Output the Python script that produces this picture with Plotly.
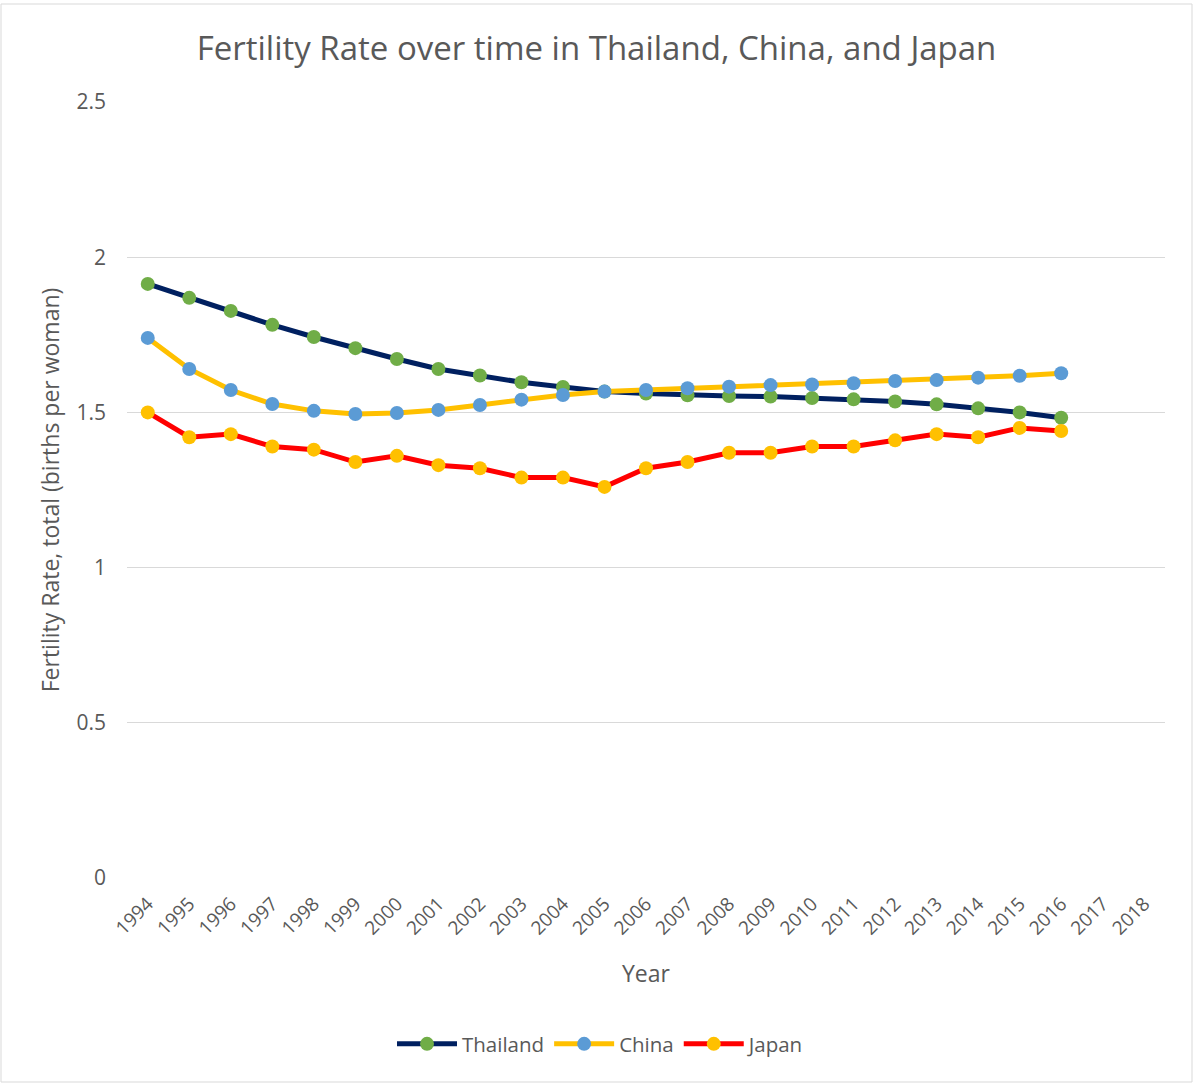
import plotly.graph_objects as go

years = [str(y) for y in range(1994, 2019)]
data_years = [str(y) for y in range(1994, 2017)]

thailand = [1.914, 1.869, 1.827, 1.782, 1.743, 1.707, 1.672, 1.640, 1.619, 1.597, 1.582,
            1.567, 1.561, 1.555, 1.553, 1.551, 1.546, 1.542, 1.535, 1.526, 1.513, 1.500, 1.483]
china = [1.740, 1.640, 1.572, 1.527, 1.505, 1.495, 1.498, 1.508, 1.524, 1.541, 1.556,
         1.567, 1.572, 1.578, 1.583, 1.588, 1.590, 1.594, 1.601, 1.604, 1.612, 1.618, 1.626]
japan = [1.50, 1.42, 1.43, 1.39, 1.38, 1.34, 1.36, 1.33, 1.32, 1.29, 1.29,
         1.26, 1.32, 1.34, 1.37, 1.37, 1.39, 1.39, 1.41, 1.43, 1.42, 1.45, 1.44]

series = [
    ("Thailand", thailand, "#002060", "#70AD47"),
    ("China", china, "#FFC000", "#5B9BD5"),
    ("Japan", japan, "#FF0000", "#FFC000"),
]

FONT = "'Open Sans', sans-serif"
GREY = "#595959"

W, H = 1193, 1083
L, R, T, B = 127, 28, 102, 205
PW, PH = W - L - R, H - T - B

fig = go.Figure()
for name, vals, lc, mc in series:
    fig.add_trace(go.Scatter(
        x=data_years, y=vals, name=name, mode="lines+markers",
        line=dict(color=lc, width=5),
        marker=dict(color=mc, size=14, line=dict(width=0)),
    ))

fig.update_layout(
    width=W, height=H,
    paper_bgcolor="white", plot_bgcolor="white",
    margin=dict(l=L, r=R, t=T, b=B),
    font=dict(family=FONT, color=GREY, size=18),
    title=dict(text="Fertility Rate over time in Thailand, China, and Japan",
               x=0.5, xanchor="center", y=1 - 48 / H, yanchor="middle",
               font=dict(size=33, color=GREY, family=FONT)),
    xaxis=dict(
        type="category", categoryorder="array", categoryarray=years,
        range=[-0.5, 24.5], tickmode="array", tickvals=years, ticktext=years,
        tickangle=-45, tickfont=dict(size=19, color=GREY), ticklabelstandoff=10,
        showgrid=False, zeroline=False, showline=False,
        title=dict(text="Year", font=dict(size=23, color=GREY), standoff=26),
    ),
    yaxis=dict(
        range=[0, 2.5], tickvals=[0, 0.5, 1, 1.5, 2, 2.5],
        ticktext=["0", "0.5", "1", "1.5", "2", "2.5"],
        showgrid=True, gridcolor="#D9D9D9", gridwidth=1.3,
        zeroline=False, showline=False,
        tickfont=dict(size=21, color=GREY), ticklabelstandoff=20,
        title=dict(text="Fertility Rate, total (births per woman)",
                   font=dict(size=23, color=GREY), standoff=10),
    ),
    legend=dict(orientation="h", x=(601 - L) / PW, xanchor="center",
                y=(878 - 1044) / PH, yanchor="middle",
                font=dict(size=20.5, color=GREY), itemwidth=60,
                traceorder="normal"),
    shapes=[dict(type="rect", xref="paper", yref="paper",
                 x0=(1 - L) / PW, x1=(1192 - L) / PW,
                 y0=(878 - 1082) / PH, y1=(878 - 4) / PH,
                 line=dict(color="#D9D9D9", width=1), fillcolor="rgba(0,0,0,0)",
                 layer="below")],
)

fig.write_html("out.html", config={"displayModeBar": False},
               post_script="document.body.style.margin='0';")
